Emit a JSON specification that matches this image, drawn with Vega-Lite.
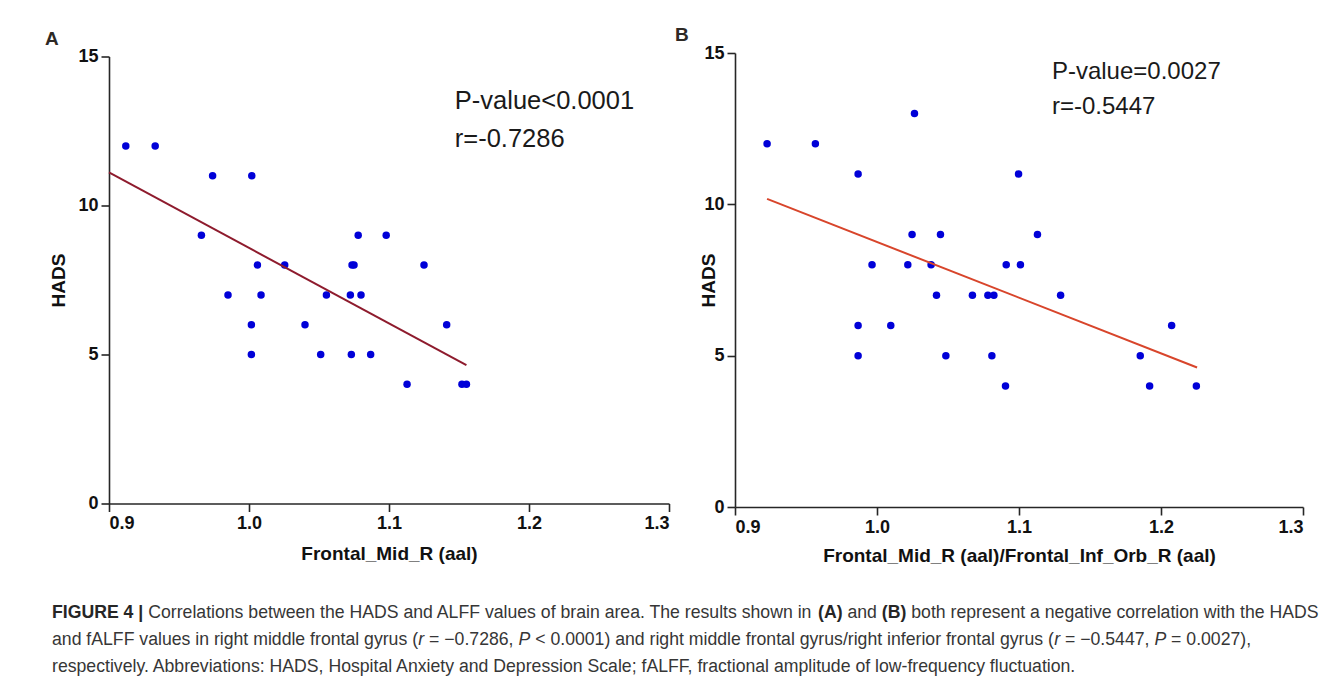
{
  "$schema": "https://vega.github.io/schema/vega-lite/v6.json",
  "background": "white",
  "padding": {"left": 45, "top": 26, "right": 5, "bottom": 5},
  "autosize": {"type": "pad"},
  "config": {
    "font": "Liberation Sans",
    "view": {"stroke": null},
    "axis": {
      "domainColor": "#262626", "domainWidth": 1.6,
      "tickColor": "#262626", "tickWidth": 1.6, "tickSize": 8,
      "labelFont": "Liberation Sans", "labelFontSize": 18, "labelFontWeight": "bold", "labelColor": "#111111", "labelPadding": 3,
      "titleFont": "Liberation Sans", "titleFontSize": 19, "titleFontWeight": "bold", "titleColor": "#111111",
      "grid": false
    },
    "title": {"font": "Liberation Sans", "fontSize": 19, "fontWeight": "bold", "color": "#2e2925", "anchor": "start"},
    "text": {"font": "Liberation Sans"}
  },
  "datasets": {
    "a": [
      {"x": 0.912, "y": 12}, {"x": 0.933, "y": 12}, {"x": 0.974, "y": 11}, {"x": 1.002, "y": 11},
      {"x": 0.966, "y": 9}, {"x": 1.078, "y": 9}, {"x": 1.098, "y": 9},
      {"x": 1.006, "y": 8}, {"x": 1.0255, "y": 8}, {"x": 1.0736, "y": 8}, {"x": 1.075, "y": 8}, {"x": 1.125, "y": 8},
      {"x": 0.985, "y": 7}, {"x": 1.0086, "y": 7}, {"x": 1.0553, "y": 7}, {"x": 1.0724, "y": 7}, {"x": 1.08, "y": 7},
      {"x": 1.0017, "y": 6}, {"x": 1.04, "y": 6}, {"x": 1.1412, "y": 6},
      {"x": 1.0017, "y": 5}, {"x": 1.0512, "y": 5}, {"x": 1.0731, "y": 5}, {"x": 1.0869, "y": 5},
      {"x": 1.1129, "y": 4}, {"x": 1.1521, "y": 4}, {"x": 1.1553, "y": 4}
    ],
    "b": [
      {"x": 0.9226, "y": 12}, {"x": 0.9566, "y": 12}, {"x": 1.0264, "y": 13},
      {"x": 0.9867, "y": 11}, {"x": 1.0997, "y": 11},
      {"x": 1.0247, "y": 9}, {"x": 1.0447, "y": 9}, {"x": 1.113, "y": 9},
      {"x": 0.9965, "y": 8}, {"x": 1.0217, "y": 8}, {"x": 1.0381, "y": 8}, {"x": 1.091, "y": 8}, {"x": 1.101, "y": 8},
      {"x": 1.0419, "y": 7}, {"x": 1.0672, "y": 7}, {"x": 1.0781, "y": 7}, {"x": 1.0823, "y": 7}, {"x": 1.1293, "y": 7},
      {"x": 0.9867, "y": 6}, {"x": 1.0097, "y": 6}, {"x": 1.2075, "y": 6},
      {"x": 0.9867, "y": 5}, {"x": 1.0485, "y": 5}, {"x": 1.0809, "y": 5}, {"x": 1.1854, "y": 5},
      {"x": 1.0905, "y": 4}, {"x": 1.192, "y": 4}, {"x": 1.2249, "y": 4}
    ],
    "lineA": [{"x": 0.9, "y": 11.11}, {"x": 1.1553, "y": 4.64}],
    "lineB": [{"x": 0.9226, "y": 10.18}, {"x": 1.2254, "y": 4.61}]
  },
  "spacing": 35,
  "vconcat": [
    {
      "hconcat": [
        {
          "width": 560, "height": 447,
          "title": {"text": "A", "frame": "group", "dx": -64, "offset": -1},
          "layer": [
            {
              "data": {"name": "a"},
              "mark": {"type": "circle", "size": 56, "color": "#0000d8", "opacity": 1},
              "encoding": {
                "x": {"field": "x", "type": "quantitative", "scale": {"domain": [0.9, 1.3], "nice": false, "zero": false},
                      "axis": {"values": [0.9, 1.0, 1.1, 1.2, 1.3], "format": ".1f", "title": "Frontal_Mid_R (aal)", "titlePadding": 12}},
                "y": {"field": "y", "type": "quantitative", "scale": {"domain": [0, 15], "nice": false},
                      "axis": {"values": [0, 5, 10, 15], "title": "HADS", "titlePadding": 9}}
              }
            },
            {
              "data": {"name": "lineA"},
              "mark": {"type": "line", "color": "#8e1b2d", "strokeWidth": 2},
              "encoding": {"x": {"field": "x", "type": "quantitative"}, "y": {"field": "y", "type": "quantitative"}}
            },
            {
              "data": {"values": [{"t": "P-value<0.0001"}]},
              "mark": {"type": "text", "align": "left", "baseline": "middle", "fontSize": 25.5, "color": "#1a1a1a"},
              "encoding": {"x": {"datum": 1.147}, "y": {"datum": 13.49}, "text": {"field": "t"}}
            },
            {
              "data": {"values": [{"t": "r=-0.7286"}]},
              "mark": {"type": "text", "align": "left", "baseline": "middle", "fontSize": 25.5, "color": "#1a1a1a"},
              "encoding": {"x": {"datum": 1.147}, "y": {"datum": 12.22}, "text": {"field": "t"}}
            }
          ]
        },
        {
          "width": 568, "height": 454,
          "title": {"text": "B", "frame": "group", "dx": -60, "offset": -1},
          "layer": [
            {
              "data": {"name": "b"},
              "mark": {"type": "circle", "size": 56, "color": "#0000d8", "opacity": 1},
              "encoding": {
                "x": {"field": "x", "type": "quantitative", "scale": {"domain": [0.9, 1.3], "nice": false, "zero": false},
                      "axis": {"values": [0.9, 1.0, 1.1, 1.2, 1.3], "format": ".1f", "title": "Frontal_Mid_R (aal)/Frontal_Inf_Orb_R (aal)", "titlePadding": 10}},
                "y": {"field": "y", "type": "quantitative", "scale": {"domain": [0, 15], "nice": false},
                      "axis": {"values": [0, 5, 10, 15], "title": "HADS", "titlePadding": -15}}
              }
            },
            {
              "data": {"name": "lineB"},
              "mark": {"type": "line", "color": "#d8452b", "strokeWidth": 2},
              "encoding": {"x": {"field": "x", "type": "quantitative"}, "y": {"field": "y", "type": "quantitative"}}
            },
            {
              "data": {"values": [{"t": "P-value=0.0027"}]},
              "mark": {"type": "text", "align": "left", "baseline": "middle", "fontSize": 24, "color": "#1a1a1a"},
              "encoding": {"x": {"datum": 1.1232}, "y": {"datum": 14.38}, "text": {"field": "t"}}
            },
            {
              "data": {"values": [{"t": "r=-0.5447"}]},
              "mark": {"type": "text", "align": "left", "baseline": "middle", "fontSize": 24, "color": "#1a1a1a"},
              "encoding": {"x": {"datum": 1.1232}, "y": {"datum": 13.22}, "text": {"field": "t"}}
            }
          ]
        }
      ],
      "spacing": 66,
      "bounds": "flush",
      "center": true
    },
    {
      "width": 1225, "height": 80,
      "layer": [
        {
          "data": {"values": [{"t": "FIGURE 4 |"}]},
          "mark": {"type": "text", "align": "left", "baseline": "middle", "fontSize": 17.67, "fontWeight": "bold", "color": "#262626"},
          "encoding": {
            "x": {"datum": 0, "type": "quantitative", "scale": {"domain": [3226, 72554], "nice": false, "zero": false}, "axis": null},
            "y": {"datum": 0.5, "type": "quantitative", "scale": {"domain": [0, 3], "reverse": true, "nice": false}, "axis": null},
            "text": {"field": "t"}
          }
        },
        {
          "data": {"values": [{"t": "Correlations between the HADS and ALFF values of brain area. The results shown in"}]},
          "mark": {"type": "text", "align": "left", "baseline": "middle", "fontSize": 17.67, "color": "#363636"},
          "encoding": {"x": {"datum": 5448}, "y": {"datum": 0.5}, "text": {"field": "t"}}
        },
        {
          "data": {"values": [{"t": "(A)"}]},
          "mark": {"type": "text", "align": "left", "baseline": "middle", "fontSize": 17.67, "fontWeight": "bold", "color": "#262626"},
          "encoding": {"x": {"datum": 43353}, "y": {"datum": 0.5}, "text": {"field": "t"}}
        },
        {
          "data": {"values": [{"t": "and"}]},
          "mark": {"type": "text", "align": "left", "baseline": "middle", "fontSize": 17.67, "color": "#363636"},
          "encoding": {"x": {"datum": 45019}, "y": {"datum": 0.5}, "text": {"field": "t"}}
        },
        {
          "data": {"values": [{"t": "(B)"}]},
          "mark": {"type": "text", "align": "left", "baseline": "middle", "fontSize": 17.67, "fontWeight": "bold", "color": "#262626"},
          "encoding": {"x": {"datum": 46965}, "y": {"datum": 0.5}, "text": {"field": "t"}}
        },
        {
          "data": {"values": [{"t": "both represent a negative correlation with the HADS"}]},
          "mark": {"type": "text", "align": "left", "baseline": "middle", "fontSize": 17.67, "color": "#363636"},
          "encoding": {"x": {"datum": 48631}, "y": {"datum": 0.5}, "text": {"field": "t"}}
        },
        {
          "data": {"values": [{"t": "and fALFF values in right middle frontal gyrus ("}]},
          "mark": {"type": "text", "align": "left", "baseline": "middle", "fontSize": 17.67, "color": "#363636"},
          "encoding": {"x": {"datum": 0}, "y": {"datum": 1.5}, "text": {"field": "t"}}
        },
        {
          "data": {"values": [{"t": "r"}]},
          "mark": {"type": "text", "align": "left", "baseline": "middle", "fontSize": 17.67, "fontStyle": "italic", "color": "#363636"},
          "encoding": {"x": {"datum": 20730}, "y": {"datum": 1.5}, "text": {"field": "t"}}
        },
        {
          "data": {"values": [{"t": "= −0.7286,"}]},
          "mark": {"type": "text", "align": "left", "baseline": "middle", "fontSize": 17.67, "color": "#363636"},
          "encoding": {"x": {"datum": 21341}, "y": {"datum": 1.5}, "text": {"field": "t"}}
        },
        {
          "data": {"values": [{"t": "P"}]},
          "mark": {"type": "text", "align": "left", "baseline": "middle", "fontSize": 17.67, "fontStyle": "italic", "color": "#363636"},
          "encoding": {"x": {"datum": 26401}, "y": {"datum": 1.5}, "text": {"field": "t"}}
        },
        {
          "data": {"values": [{"t": "< 0.0001) and right middle frontal gyrus/right inferior frontal gyrus ("}]},
          "mark": {"type": "text", "align": "left", "baseline": "middle", "fontSize": 17.67, "color": "#363636"},
          "encoding": {"x": {"datum": 27346}, "y": {"datum": 1.5}, "text": {"field": "t"}}
        },
        {
          "data": {"values": [{"t": "r"}]},
          "mark": {"type": "text", "align": "left", "baseline": "middle", "fontSize": 17.67, "fontStyle": "italic", "color": "#363636"},
          "encoding": {"x": {"datum": 56719}, "y": {"datum": 1.5}, "text": {"field": "t"}}
        },
        {
          "data": {"values": [{"t": "= −0.5447,"}]},
          "mark": {"type": "text", "align": "left", "baseline": "middle", "fontSize": 17.67, "color": "#363636"},
          "encoding": {"x": {"datum": 57330}, "y": {"datum": 1.5}, "text": {"field": "t"}}
        },
        {
          "data": {"values": [{"t": "P"}]},
          "mark": {"type": "text", "align": "left", "baseline": "middle", "fontSize": 17.67, "fontStyle": "italic", "color": "#363636"},
          "encoding": {"x": {"datum": 62390}, "y": {"datum": 1.5}, "text": {"field": "t"}}
        },
        {
          "data": {"values": [{"t": "= 0.0027),"}]},
          "mark": {"type": "text", "align": "left", "baseline": "middle", "fontSize": 17.67, "color": "#363636"},
          "encoding": {"x": {"datum": 63335}, "y": {"datum": 1.5}, "text": {"field": "t"}}
        },
        {
          "data": {"values": [{"t": "respectively. Abbreviations: HADS, Hospital Anxiety and Depression Scale; fALFF, fractional amplitude of low-frequency fluctuation."}]},
          "mark": {"type": "text", "align": "left", "baseline": "middle", "fontSize": 17.67, "color": "#363636"},
          "encoding": {"x": {"datum": 0}, "y": {"datum": 2.5}, "text": {"field": "t"}}
        }
      ]
    }
  ]
}
